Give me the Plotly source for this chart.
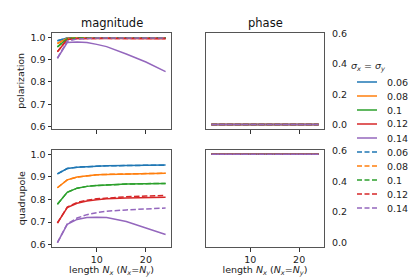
import plotly.graph_objects as go

# ---------------- data ----------------
sigmas = ["0.06", "0.08", "0.1", "0.12", "0.14"]
length_n = [2, 4, 6, 8, 10, 12, 16, 20, 24]

pol_mag_solid = {
    "0.06": [0.984, 0.996, 0.998, 0.998, 0.998, 0.998, 0.998, 0.998, 0.998],
    "0.08": [0.972, 0.995, 0.998, 0.998, 0.998, 0.998, 0.997, 0.997, 0.997],
    "0.1":  [0.957, 0.993, 0.997, 0.997, 0.997, 0.997, 0.996, 0.996, 0.996],
    "0.12": [0.935, 0.990, 0.995, 0.995, 0.995, 0.994, 0.994, 0.993, 0.993],
    "0.14": [0.906, 0.976, 0.979, 0.976, 0.968, 0.958, 0.925, 0.889, 0.846],
}
pol_mag_dashed = {
    "0.06": [0.984, 0.996, 0.998, 0.998, 0.998, 0.998, 0.998, 0.998, 0.998],
    "0.08": [0.972, 0.995, 0.998, 0.998, 0.998, 0.998, 0.997, 0.997, 0.997],
    "0.1":  [0.957, 0.993, 0.997, 0.997, 0.997, 0.997, 0.996, 0.996, 0.996],
    "0.12": [0.935, 0.990, 0.994, 0.995, 0.995, 0.995, 0.994, 0.994, 0.994],
    "0.14": [0.906, 0.982, 0.992, 0.995, 0.996, 0.996, 0.997, 0.997, 0.997],
}
quad_mag_solid = {
    "0.06": [0.913, 0.937, 0.943, 0.946, 0.948, 0.949, 0.950, 0.951, 0.952],
    "0.08": [0.852, 0.887, 0.899, 0.905, 0.909, 0.911, 0.913, 0.915, 0.916],
    "0.1":  [0.779, 0.832, 0.850, 0.858, 0.862, 0.865, 0.868, 0.870, 0.871],
    "0.12": [0.696, 0.764, 0.783, 0.793, 0.799, 0.803, 0.807, 0.809, 0.810],
    "0.14": [0.609, 0.690, 0.712, 0.720, 0.722, 0.720, 0.703, 0.674, 0.645],
}
quad_mag_dashed = {
    "0.06": [0.913, 0.937, 0.943, 0.946, 0.948, 0.949, 0.950, 0.951, 0.952],
    "0.08": [0.852, 0.887, 0.899, 0.905, 0.909, 0.911, 0.913, 0.915, 0.916],
    "0.1":  [0.779, 0.832, 0.850, 0.858, 0.862, 0.865, 0.868, 0.870, 0.871],
    "0.12": [0.696, 0.766, 0.787, 0.797, 0.803, 0.807, 0.812, 0.815, 0.818],
    "0.14": [0.609, 0.692, 0.718, 0.733, 0.742, 0.748, 0.754, 0.758, 0.762],
}
pol_phase = [0.0, 0.0, 0.0, 0.0, 0.0, 0.0, 0.0, 0.0, 0.0]
quad_phase = [0.578, 0.578, 0.578, 0.578, 0.578, 0.578, 0.578, 0.578, 0.578]

x_ticks = [10, 20]
mag_ticks = [0.6, 0.7, 0.8, 0.9, 1.0]
phase_ticks = [0.0, 0.2, 0.4, 0.6]

colors = ["#1f77b4", "#ff7f0e", "#2ca02c", "#d62728", "#9467bd"]

# ---------------- figure ----------------
W, H = 415, 277
FONT = "DejaVu Sans"
TXT = "#222222"
FS = 9.5
DASH = "5.5px,2.4px"
fig = go.Figure()


def add_set(values_by_sigma, dash, xa, ya, phase=None):
    for s, c in zip(sigmas, colors):
        y = values_by_sigma[s] if phase is None else phase
        fig.add_trace(go.Scatter(
            x=length_n, y=y, mode="lines", xaxis=xa, yaxis=ya,
            line=dict(color=c, width=1.5, dash=dash),
            name=s, showlegend=False,
        ))


# solid sets
add_set(pol_mag_solid, "solid", "x", "y")
add_set(quad_mag_solid, "solid", "x3", "y3")
add_set(None, "solid", "x2", "y2", phase=pol_phase)
add_set(None, "solid", "x4", "y4", phase=quad_phase)
# dashed sets
add_set(pol_mag_dashed, DASH, "x", "y")
add_set(quad_mag_dashed, DASH, "x3", "y3")
add_set(None, DASH, "x2", "y2", phase=pol_phase)
add_set(None, DASH, "x4", "y4", phase=quad_phase)


def px_x(a, b):
    return [a / W, b / W]


def px_y(top, bottom):
    return [1 - bottom / H, 1 - top / H]


frame = "#555555"
tickfont = dict(family=FONT, size=FS, color=TXT)
common_x = dict(range=[0.9, 25.1], tickvals=x_ticks, ticks="outside", ticklen=3.5,
                tickcolor="#333", tickwidth=1, showline=True, mirror=True,
                linecolor=frame, linewidth=1, showgrid=False, zeroline=False,
                tickfont=tickfont, automargin=False)
xdom_l = px_x(52, 171)
xdom_r = px_x(206, 324)
ydom_t = px_y(32.5, 129)
ydom_b = px_y(149.5, 247)

xtitle = "length <i>N</i><sub><i>x</i></sub> (<i>N</i><sub><i>x</i></sub>=<i>N</i><sub><i>y</i></sub>)"

fig.update_layout(
    xaxis=dict(common_x, domain=xdom_l, anchor="y", showticklabels=False),
    xaxis2=dict(common_x, domain=xdom_r, anchor="y2", showticklabels=False),
    xaxis3=dict(common_x, domain=xdom_l, anchor="y3",
                title=dict(text=xtitle, font=dict(family=FONT, size=FS, color=TXT), standoff=3)),
    xaxis4=dict(common_x, domain=xdom_r, anchor="y4",
                title=dict(text=xtitle, font=dict(family=FONT, size=FS, color=TXT), standoff=3)),
)

common_mag = dict(range=[0.59, 1.021], tickvals=mag_ticks, tickformat=".1f",
                  ticks="outside", ticklen=3.5, tickcolor="#333", showline=True,
                  mirror=True, linecolor=frame, linewidth=1, showgrid=False,
                  zeroline=False, tickfont=tickfont, automargin=False)
common_phase = dict(range=[-0.029, 0.609], tickvals=phase_ticks, tickformat=".1f",
                    showgrid=False, zeroline=False, automargin=False)

fig.update_layout(
    yaxis=dict(common_mag, domain=ydom_t, anchor="x"),
    yaxis3=dict(common_mag, domain=ydom_b, anchor="x3"),
    # phase axes: labels on the right, no visible tick marks there
    yaxis2=dict(common_phase, domain=ydom_t, anchor="x2", side="right",
                ticks="outside", ticklen=5, tickcolor="rgba(0,0,0,0)",
                showline=True, mirror=True, linecolor=frame, linewidth=1,
                tickfont=tickfont),
    yaxis4=dict(common_phase, domain=ydom_b, anchor="x4", side="right",
                ticks="outside", ticklen=5, tickcolor="rgba(0,0,0,0)",
                showline=True, mirror=True, linecolor=frame, linewidth=1,
                tickfont=tickfont),
    # tick marks only on the left of the phase panels
    yaxis5=dict(common_phase, overlaying="y2", anchor="x2", side="left",
                ticks="outside", ticklen=3.5, tickcolor="#333",
                showticklabels=False, showline=False),
    yaxis6=dict(common_phase, overlaying="y4", anchor="x4", side="left",
                ticks="outside", ticklen=3.5, tickcolor="#333",
                showticklabels=False, showline=False),
)

# ---------------- titles and legend (legend built from the series lists) ----------------
annotations = [
    dict(text="magnitude", x=sum(xdom_l) / 2, y=1 - 23.5 / H, xref="paper", yref="paper",
         xanchor="center", yanchor="middle", showarrow=False,
         font=dict(family=FONT, size=11.5, color="#111")),
    dict(text="phase", x=sum(xdom_r) / 2, y=1 - 23.5 / H, xref="paper", yref="paper",
         xanchor="center", yanchor="middle", showarrow=False,
         font=dict(family=FONT, size=11.5, color="#111")),
    dict(text="polarization", x=21 / W, y=sum(ydom_t) / 2, xref="paper", yref="paper",
         xanchor="center", yanchor="middle", textangle=-90, showarrow=False,
         font=dict(family=FONT, size=FS, color=TXT)),
    dict(text="quadrupole", x=21 / W, y=sum(ydom_b) / 2, xref="paper", yref="paper",
         xanchor="center", yanchor="middle", textangle=-90, showarrow=False,
         font=dict(family=FONT, size=FS, color=TXT)),
    dict(text="<i>σ</i><sub><i>x</i></sub> = <i>σ</i><sub><i>y</i></sub>",
         x=368 / W, y=1 - 66 / H, xref="paper", yref="paper", showarrow=False,
         xanchor="center", yanchor="middle",
         font=dict(family=FONT, size=FS, color=TXT)),
]
shapes = []
LEG_X0, LEG_X1, LEG_TX, LEG_Y0, LEG_DY = 357, 377, 385, 82, 14
entries = [(s, c, "solid") for s, c in zip(sigmas, colors)] + \
          [(s, c, "dash") for s, c in zip(sigmas, colors)]
for i, (s, c, d) in enumerate(entries):
    ypx = LEG_Y0 + LEG_DY * i
    yp = 1 - ypx / H
    shapes.append(dict(type="line", xref="paper", yref="paper",
                       x0=LEG_X0 / W, x1=LEG_X1 / W, y0=yp, y1=yp,
                       line=dict(color=c, width=1.5,
                                 dash="solid" if d == "solid" else "5px,2.5px")))
    annotations.append(dict(text=s, x=LEG_TX / W, y=yp, xref="paper", yref="paper",
                            xanchor="left", yanchor="middle", showarrow=False,
                            font=dict(family=FONT, size=FS, color=TXT)))

fig.update_layout(
    width=W, height=H,
    margin=dict(l=0, r=0, t=0, b=0, autoexpand=False),
    paper_bgcolor="white", plot_bgcolor="white",
    font=dict(family=FONT, size=FS, color=TXT),
    showlegend=False,
    hovermode=False,
    annotations=annotations,
    shapes=shapes,
)

fig.write_html(
    "out.html",
    config={"displayModeBar": False, "staticPlot": True},
    post_script="document.body.style.margin='0';document.body.style.padding='0';"
                "document.documentElement.style.overflow='hidden';",
)
